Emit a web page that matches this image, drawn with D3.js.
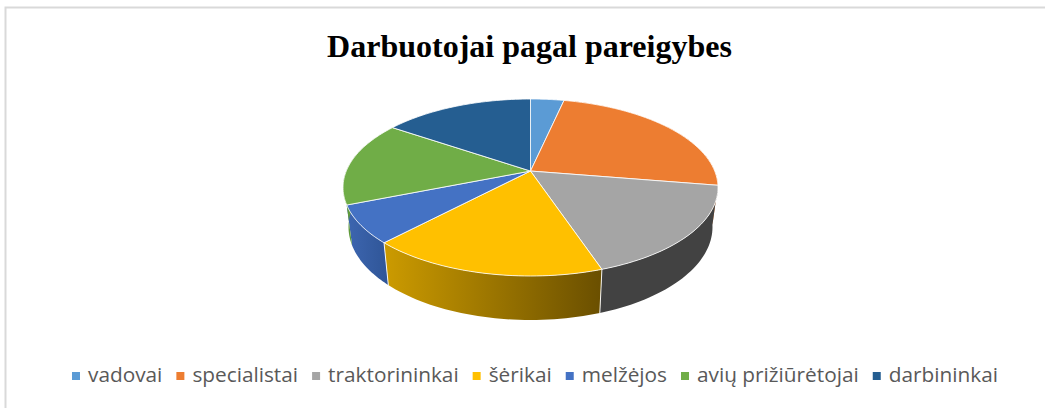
<!DOCTYPE html>
<html><head><meta charset="utf-8">
<script src="https://cdn.jsdelivr.net/npm/d3@7"></script>
<style>html,body{margin:0;padding:0;background:#fff}svg{display:block}</style>
</head><body><svg id="c" width="1045" height="408"></svg>
<script>
const categories = ["vadovai","specialistai","traktorininkai","šėrikai","melžėjos","avių prižiūrėtojai","darbininkai"];
const values = [2,14,10,10,4,9,9];
const topColors = ["#5b9bd5","#ed7d31","#a5a5a5","#ffc000","#4472c4","#70ad47","#255e91"];
const wallStart = ["#5b9bd5","#ed7d31","#424242","#cc9b00","#3d66b0","#5f9a3a","#1d4b74"];
const wallEnd   = ["#5b9bd5","#ed7d31","#424242","#6a4f00","#2f5597","#5f9a3a","#1d4b74"];

const svg=d3.select("#c");
const defs=svg.append("defs");
svg.append("path").attr("d","M5.5,408V7.5H1045").attr("fill","none").attr("stroke","#d9d9d9").attr("stroke-width",2);

svg.append("text").attr("x",529.5).attr("y",57).attr("text-anchor","middle")
  .attr("font-family","'Liberation Serif',serif").attr("font-weight","bold").attr("font-size",32).attr("fill","#000")
  .text("Darbuotojai pagal pareigybes");

// Perspective mapping of the pie circle
const cx=530.5, topCy=187.5, topRx=187.5, topRy=88.5, botCy=227, botRx=182, botRy=93;
const v0=-0.186, sq=Math.sqrt(1-v0*v0);
function proj(a){ // a clockwise from 12 o'clock
  const s=Math.sin(a), t=-Math.cos(a), d=1+t*v0;
  return [s*sq/d,(t+v0)/d];
}
const rimTop=a=>{const p=proj(a);return [cx+topRx*p[0],topCy+topRy*p[1]];};
const rimBot=a=>{const p=proj(a);return [cx+botRx*p[0],botCy+botRy*p[1]];};
const apex=[cx,topCy+topRy*v0];
const line=d3.line();
const arcs=d3.pie().sort(null)(values);
const samples=(a,b)=>d3.range(0,41).map(i=>a+(b-a)*i/40);

// walls
const gWalls=svg.append("g");
arcs.forEach((d,i)=>{
  const a0=d.startAngle,a1=d.endAngle;
  if(a1<Math.PI/2||a0>Math.PI*1.6) return;
  const end=Math.min(a1,Math.PI*1.6);
  const pts=samples(a0,end);
  const poly=pts.map(rimTop).concat(pts.slice().reverse().map(rimBot));
  const id="w"+i;
  const xs=poly.map(p=>p[0]);
  const g=defs.append("linearGradient").attr("id",id).attr("gradientUnits","userSpaceOnUse")
    .attr("x1",d3.min(xs)).attr("x2",d3.max(xs)).attr("y1",0).attr("y2",0);
  g.append("stop").attr("offset",0).attr("stop-color",wallStart[i]);
  g.append("stop").attr("offset",1).attr("stop-color",wallEnd[i]);
  gWalls.append("path").attr("d",line(poly)+"Z").attr("fill",`url(#${id})`);
});
arcs.forEach((d,i)=>{
  const a1=d.endAngle;
  if(a1<Math.PI*0.6||a1>Math.PI*1.3) return;
  gWalls.append("line").attr("x1",rimTop(a1)[0]).attr("y1",rimTop(a1)[1]).attr("x2",rimBot(a1)[0]).attr("y2",rimBot(a1)[1])
    .attr("stroke","#fff").attr("stroke-width",1).attr("stroke-opacity",0.9);
});

// top face
arcs.forEach((d,i)=>{
  const pts=samples(d.startAngle,d.endAngle).map(rimTop);
  svg.append("path").attr("d",line([apex].concat(pts))+"Z")
    .attr("fill",topColors[i]).attr("stroke","#fff").attr("stroke-width",0.9).attr("stroke-linejoin","round").attr("stroke-opacity",0.9);
});

// legend
const lg=svg.append("g").attr("font-family","'Open Sans',sans-serif").attr("font-size",20.8).attr("fill","#595959");
let x=72;
categories.forEach((c,i)=>{
  lg.append("rect").attr("x",x).attr("y",372).attr("width",8).attr("height",8).attr("fill",topColors[i]);
  const t=lg.append("text").attr("x",x+16).attr("y",381.5).text(c);
  x+=16+t.node().getComputedTextLength()+14;
});
</script></body></html>
